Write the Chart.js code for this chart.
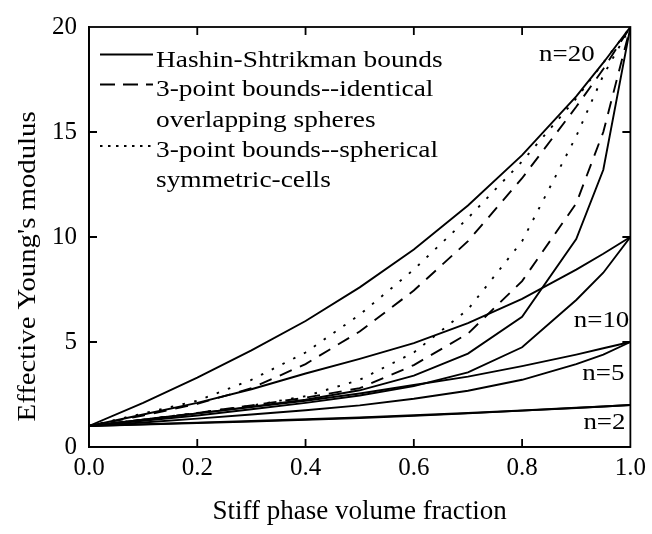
<!DOCTYPE html>
<html>
<head>
<meta charset="utf-8">
<script src="https://cdn.jsdelivr.net/npm/chart.js@4"></script>
<style>
    html, body { margin: 0; padding: 0; background: #fff; }
</style>
</head>
<body>
<canvas id="grafico" width="652" height="534"></canvas>
<script>
// =====================================
// DATOS
// =====================================

// fraccion de volumen de la fase rigida
const fraccion = [0, 0.1, 0.2, 0.3, 0.4, 0.5, 0.6, 0.7, 0.8, 0.9, 0.95, 1.0];

// cotas de Hashin-Shtrikman (superior / inferior) para n = 20, 10, 5, 2
const hsSup20 = [1, 2.1, 3.3, 4.6, 6.0, 7.6, 9.4, 11.5, 13.9, 16.7, 18.3, 20];
const hsInf20 = [1, 1.3, 1.6, 1.92, 2.25, 2.7, 3.4, 4.45, 6.2, 9.9, 13.2, 20];
const hsSup10 = [1, 1.55, 2.1, 2.75, 3.5, 4.2, 4.95, 5.9, 7.05, 8.45, 9.2, 10];
const hsInf10 = [1, 1.25, 1.5, 1.8, 2.1, 2.45, 2.9, 3.55, 4.75, 7.0, 8.3, 10];
const hsSup5 = [1, 1.3, 1.6, 1.9, 2.2, 2.55, 2.95, 3.35, 3.85, 4.4, 4.7, 5];
const hsInf5 = [1, 1.17, 1.35, 1.55, 1.75, 1.98, 2.3, 2.68, 3.2, 3.95, 4.4, 5];
const hsSup2 = [1, 1.08, 1.16, 1.24, 1.32, 1.41, 1.51, 1.62, 1.74, 1.87, 1.93, 2];
const hsInf2 = [1, 1.07, 1.14, 1.21, 1.29, 1.38, 1.48, 1.6, 1.73, 1.86, 1.93, 2];

// cotas de 3 puntos, n = 20
const esferasSup20 = [1, 1.5, 2.05, 2.8, 3.95, 5.5, 7.45, 9.8, 12.8, 16.2, 18.0, 20];
const esferasInf20 = [1, 1.3, 1.62, 1.98, 2.35, 2.8, 3.9, 5.4, 7.9, 11.6, 15.0, 20];
const celdasSup20 = [1, 1.6, 2.2, 3.2, 4.5, 6.3, 8.45, 10.9, 13.6, 16.6, 18.3, 20];
const celdasInf20 = [1, 1.3, 1.62, 1.97, 2.42, 3.2, 4.5, 6.55, 9.8, 14.8, 17.7, 20];

// etiquetas n=... (texto, x, y en unidades de datos)
const etiquetasN = ["n=20", "n=10", "n=5", "n=2"];
const etiquetasX = [0.934, 0.998, 0.989, 0.991];
const etiquetasY = [18.39, 5.73, 3.21, 0.84];

const textosLeyenda = [
    "Hashin-Shtrikman bounds",
    "3-point bounds--identical",
    "overlapping spheres",
    "3-point bounds--spherical",
    "symmetric-cells"
];

const tituloY = "Effective Young's modulus";

// =====================================
// ESTILOS
// =====================================

const FUENTE = "'Liberation Serif', 'Times New Roman', serif";
const ANCHO_LINEA = 1.9;
const RAYAS = [13, 9];
const PUNTOS = [2.5, 9.5];

function serie(valores, trazo) {
    return {
        data: fraccion.map((x, i) => ({ x, y: valores[i] })),
        borderColor: "#000",
        borderWidth: ANCHO_LINEA,
        borderDash: trazo,
        pointRadius: 0,
        tension: 0,
        fill: false
    };
}

function textoEstirado(ctx, txt, x, y, align, escala) {
    ctx.save();
    ctx.translate(x, y);
    ctx.scale(escala, 1);
    ctx.textAlign = align;
    ctx.fillText(txt, 0, 0);
    ctx.restore();
}

// marco, marcas interiores, leyenda, titulo Y y etiquetas
const marcoPlugin = {
    id: "marco",
    afterDraw(chart) {
        const { ctx, chartArea: a, scales: { x, y } } = chart;
        ctx.save();
        ctx.strokeStyle = "#000";
        ctx.fillStyle = "#000";
        ctx.lineWidth = 1.8;
        ctx.strokeRect(a.left, a.top, a.right - a.left, a.bottom - a.top);

        const largo = 8;
        ctx.beginPath();
        [0.2, 0.4, 0.6, 0.8].forEach(v => {
            const px = x.getPixelForValue(v);
            ctx.moveTo(px, a.bottom); ctx.lineTo(px, a.bottom - largo);
            ctx.moveTo(px, a.top); ctx.lineTo(px, a.top + largo);
        });
        [5, 10, 15].forEach(v => {
            const py = y.getPixelForValue(v);
            ctx.moveTo(a.left, py); ctx.lineTo(a.left + largo, py);
            ctx.moveTo(a.right, py); ctx.lineTo(a.right - largo, py);
        });
        ctx.stroke();

        // leyenda
        const x0 = a.left + 11, x1 = a.left + 64, xt = a.left + 67;
        ctx.lineWidth = ANCHO_LINEA;
        const muestras = [[a.top + 27.5, []], [a.top + 57.5, [15, 8]], [a.top + 119, [2.5, 5.5]]];
        muestras.forEach(([py, dash]) => {
            ctx.setLineDash(dash);
            ctx.beginPath();
            ctx.moveTo(x0, py); ctx.lineTo(x1, py);
            ctx.stroke();
        });
        ctx.setLineDash([]);

        ctx.font = "23px " + FUENTE;
        ctx.textBaseline = "alphabetic";
        const bases = [39.5, 68.5, 99.5, 129.5, 159.5];
        textosLeyenda.forEach((t, i) => textoEstirado(ctx, t, xt, a.top + bases[i], "left", 1.19));

        etiquetasN.forEach((t, i) => {
            textoEstirado(ctx, t, x.getPixelForValue(etiquetasX[i]), y.getPixelForValue(etiquetasY[i]), "right", 1.17);
        });

        // titulo del eje Y
        ctx.font = "25px " + FUENTE;
        ctx.textBaseline = "middle";
        ctx.translate(28.5, y.getPixelForValue(8.6));
        ctx.rotate(-Math.PI / 2);
        textoEstirado(ctx, tituloY, 0, 0, "center", 1.15);
        ctx.restore();
    }
};

// =====================================
// GRAFICO
// =====================================

new Chart(document.getElementById("grafico"), {
    type: "line",
    data: {
        datasets: [
            serie(hsSup20, []),
            serie(hsInf20, []),
            serie(hsSup10, []),
            serie(hsInf10, []),
            serie(hsSup5, []),
            serie(hsInf5, []),
            serie(hsSup2, []),
            serie(hsInf2, []),
            serie(esferasSup20, RAYAS),
            serie(esferasInf20, RAYAS),
            serie(celdasSup20, PUNTOS),
            serie(celdasInf20, PUNTOS)
        ]
    },
    options: {
        responsive: false,
        animation: false,
        layout: { padding: { top: 17, right: 19, left: 0, bottom: 0 } },
        plugins: {
            legend: { display: false },
            tooltip: { enabled: false }
        },
        scales: {
            x: {
                type: "linear",
                min: 0,
                max: 1,
                grid: { display: false, drawTicks: false },
                border: { display: true, color: "#000", width: 1.8 },
                ticks: {
                    stepSize: 0.2,
                    autoSkip: false,
                    maxRotation: 0,
                    padding: 6,
                    color: "#000",
                    font: { family: FUENTE, size: 25 },
                    callback: v => Number(v).toFixed(1)
                },
                title: {
                    display: true,
                    text: "Stiff phase volume fraction",
                    color: "#000",
                    font: { family: FUENTE, size: 27 },
                    padding: { top: 0, bottom: 6 }
                },
                afterFit: s => { s.height = 87; }
            },
            y: {
                type: "linear",
                min: 0,
                max: 20,
                grid: { display: false, drawTicks: false },
                border: { display: true, color: "#000", width: 1.8 },
                ticks: {
                    stepSize: 5,
                    padding: 12,
                    color: "#000",
                    font: { family: FUENTE, size: 25 }
                },
                afterFit: s => { s.width = 89; }
            }
        }
    },
    plugins: [marcoPlugin]
});
</script>
</body>
</html>
